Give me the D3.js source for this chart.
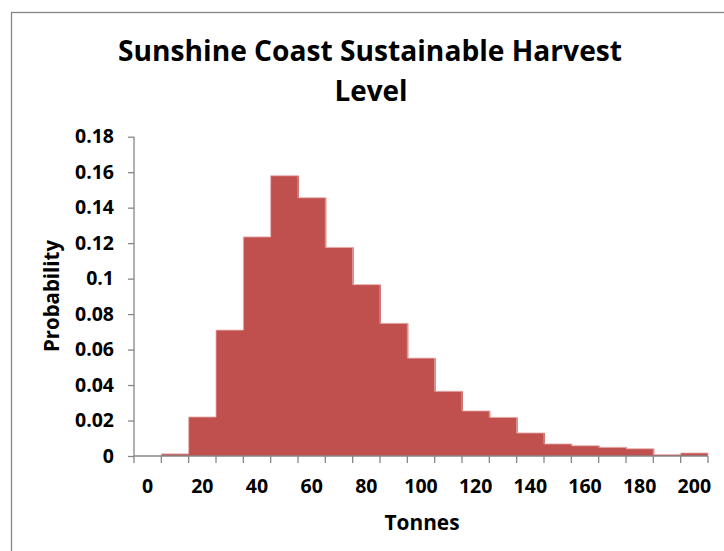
<!DOCTYPE html>
<html>
<head>
<meta charset="utf-8">
<script src="https://cdn.jsdelivr.net/npm/d3@7/dist/d3.min.js"></script>
<style>
  html, body { margin: 0; padding: 0; background: #fff; }
  svg { display: block; font-family: "Open Sans", "Liberation Sans", sans-serif; font-weight: bold; }
</style>
</head>
<body>
<svg id="chart" width="724" height="551"></svg>
<script>
// Harvest level bins (tonnes) and their probabilities
const categories = ["0","10","20","30","40","50","60","70","80","90","100",
                    "110","120","130","140","150","160","170","180","190","200"];
const probabilities = [0, 0.0012, 0.022, 0.071, 0.1235, 0.158, 0.1456, 0.1176, 0.0966,
                       0.0748, 0.0552, 0.0365, 0.0254, 0.0218, 0.013, 0.0068, 0.0058,
                       0.0049, 0.0041, 0.0008, 0.0017];
const xTickLabels = ["0","20","40","60","80","100","120","140","160","180","200"];
const yTickValues = [0, 0.02, 0.04, 0.06, 0.08, 0.1, 0.12, 0.14, 0.16, 0.18];
const yTickLabels = ["0","0.02","0.04","0.06","0.08","0.1","0.12","0.14","0.16","0.18"];

const svg = d3.select("#chart");
const axisColor = "#868686";
const barColor = "#c0504d";

// Outer chart frame
svg.append("rect")
  .attr("x", 11.5).attr("y", 12.5)
  .attr("width", 740).attr("height", 560)
  .attr("fill", "none").attr("stroke", axisColor).attr("stroke-width", 1.3);

const plotLeft = 134, plotRight = 708, plotTop = 136.7, plotBottom = 456;

const x = d3.scaleBand().domain(categories).range([plotLeft, plotRight]).padding(0);
const y = d3.scaleLinear().domain([0, 0.18]).range([plotBottom, plotTop]);

const data = categories.map((c, i) => ({ cat: c, p: probabilities[i] }));

// Histogram bars (adjacent, overlapping slightly so no seams show)
svg.append("g").selectAll("rect")
  .data(data.filter(d => d.p > 0))
  .join("rect")
  .attr("x", d => x(d.cat))
  .attr("y", d => y(d.p))
  .attr("width", (d, i, n) => x.bandwidth() + (i < n.length - 1 ? 1 : 0))
  .attr("height", d => y(0) - y(d.p))
  .attr("fill", barColor);

// Faint light outline tracing the histogram's stepped top edge
const outlinePts = [];
data.forEach((d, i) => {
  if (i === 1) outlinePts.push([x(d.cat), y(0)]);
  if (i >= 1) {
    outlinePts.push([x(d.cat), y(d.p)]);
    outlinePts.push([x(d.cat) + x.bandwidth(), y(d.p)]);
  }
});
outlinePts.push([x.range()[1], y(0)]);
svg.append("path")
  .attr("d", d3.line()(outlinePts))
  .attr("fill", "none")
  .attr("stroke", "#e9b3b1")
  .attr("stroke-width", 0.8);

// Y axis
const yAxis = d3.axisLeft(y)
  .tickValues(yTickValues)
  .tickFormat((d, i) => yTickLabels[i])
  .tickSize(6).tickPadding(14);
const gy = svg.append("g").attr("transform", `translate(${plotLeft},0)`).call(yAxis);
gy.select(".domain").attr("stroke", axisColor).attr("stroke-width", 1.3)
  .attr("d", `M0,${plotTop}V${plotBottom}`);
gy.selectAll(".tick line").attr("stroke", axisColor).attr("stroke-width", 1.3);
gy.selectAll(".tick text")
  .attr("fill", "#000").attr("font-size", 19.5).attr("font-weight", "bold")
  .attr("font-family", "'Open Sans', sans-serif");

// X axis: tick marks on bin boundaries, labels centred on every other bin
const gx = svg.append("g").attr("transform", `translate(0,${plotBottom})`);
gx.append("line")
  .attr("x1", plotLeft).attr("x2", plotRight).attr("y1", 0).attr("y2", 0)
  .attr("stroke", axisColor).attr("stroke-width", 1.3);
const boundaries = categories.map(c => x(c)).concat([x.range()[1]]);
gx.selectAll("line.tick")
  .data(boundaries)
  .join("line")
  .attr("class", "tick")
  .attr("x1", d => d).attr("x2", d => d)
  .attr("y1", 0).attr("y2", 7)
  .attr("stroke", axisColor).attr("stroke-width", 1.3);
gx.selectAll("text")
  .data(xTickLabels)
  .join("text")
  .attr("x", d => x(d) + x.bandwidth() / 2)
  .attr("y", 37)
  .attr("text-anchor", "middle")
  .attr("font-size", 19.5)
  .text(d => d);

// Title
svg.append("text")
  .attr("x", 370).attr("y", 61)
  .attr("text-anchor", "middle")
  .attr("font-size", 28)
  .attr("textLength", 504).attr("lengthAdjust", "spacingAndGlyphs")
  .text("Sunshine Coast Sustainable Harvest");
svg.append("text")
  .attr("x", 371).attr("y", 101)
  .attr("text-anchor", "middle")
  .attr("font-size", 28)
  .attr("textLength", 73).attr("lengthAdjust", "spacingAndGlyphs")
  .text("Level");

// Axis titles
svg.append("text")
  .attr("transform", "translate(59,296) rotate(-90)")
  .attr("text-anchor", "middle")
  .attr("font-size", 21)
  .attr("textLength", 112).attr("lengthAdjust", "spacingAndGlyphs")
  .text("Probability");
svg.append("text")
  .attr("x", 422).attr("y", 530)
  .attr("text-anchor", "middle")
  .attr("font-size", 21)
  .attr("textLength", 75).attr("lengthAdjust", "spacingAndGlyphs")
  .text("Tonnes");
</script>
</body>
</html>
